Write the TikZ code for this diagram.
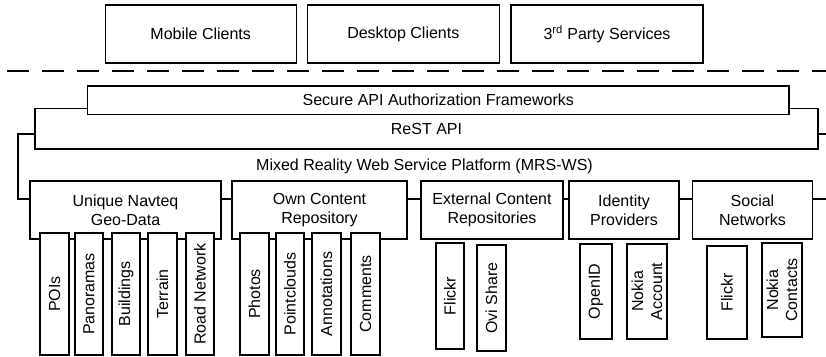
\documentclass[tikz,border=0pt]{standalone}
\usepackage{fontspec}
\setmainfont{Liberation Sans}
\usepackage{tikz}

\tikzset{
    box/.style={draw, line width=1.2pt, fill=white, inner sep=1pt, align=center, font=\fontsize{16}{19}\selectfont},
    vbox/.style={box, rotate=90},
}

\begin{document}
\begin{tikzpicture}[x=1pt,y=1pt,yscale=-1,xscale=1]
    \useasboundingbox (0,0) rectangle (826,356);

    %Shape: Rectangle [clients]
    \node [box, minimum width=191, minimum height=58] (mobile) at (200.7,33.9) {Mobile Clients};
    \node [box, minimum width=192, minimum height=58] (desktop) at (403.3,33.9) {Desktop Clients};
    \node [box, minimum width=192, minimum height=58] (thirdparty) at (607,33.9) {3\textsuperscript{rd} Party Services};

    %Straight Lines [separator]
    \draw [line width=1.2pt, dash pattern={on 21.7pt off 13.3pt}] (7,71) -- (826,71) ;

    %Shape: Rectangle [platform layers]
    \node [box, minimum width=813, minimum height=65] (platform) at (424.5,166.5) {Mixed Reality Web Service Platform (MRS-WS)};
    \node [box, minimum width=783, minimum height=40.5] (rest) at (426.5,128.75) {ReST API};
    \node [box, minimum width=701.5, minimum height=28.5] (secure) at (438.25,100.25) {Secure API Authorization Frameworks};

    %Shape: Rectangle [content sources]
    \node [box, minimum width=191, minimum height=58] (navteq) at (125.5,210) {Unique Navteq\\Geo-Data};
    \node [box, minimum width=175, minimum height=58] (owncontent) at (319.5,210) {Own Content\\Repository};
    \node [box, minimum width=142, minimum height=58] (external) at (492,210) {External Content\\Repositories};
    \node [box, minimum width=110, minimum height=58] (identity) at (624,210) {Identity\\Providers};
    \node [box, minimum width=120, minimum height=58] (social) at (752.5,210) {Social\\Networks};

    %Shape: Rectangle [navteq data]
    \node [vbox, minimum width=122, minimum height=29] (pois) at (54.5,294) {POIs};
    \node [vbox, minimum width=122, minimum height=28] (panoramas) at (89,294) {Panoramas};
    \node [vbox, minimum width=122, minimum height=28] (buildings) at (126,294) {Buildings};
    \node [vbox, minimum width=122, minimum height=29] (terrain) at (162.5,294) {Terrain};
    \node [vbox, minimum width=122, minimum height=28] (roadnet) at (200,294) {Road Network};

    %Shape: Rectangle [own content]
    \node [vbox, minimum width=122, minimum height=29] (photos) at (254.5,294) {Photos};
    \node [vbox, minimum width=122, minimum height=28] (pointclouds) at (290,294) {Pointclouds};
    \node [vbox, minimum width=122, minimum height=29] (annotations) at (326.5,294) {Annotations};
    \node [vbox, minimum width=122, minimum height=29] (comments) at (365.5,294) {Comments};

    %Shape: Rectangle [external repositories]
    \node [vbox, minimum width=106, minimum height=28] (flickrext) at (450,296) {Flickr};
    \node [vbox, minimum width=106, minimum height=29] (ovishare) at (491.5,298) {Ovi Share};

    %Shape: Rectangle [identity providers]
    \node [vbox, minimum width=95, minimum height=32] (openid) at (596,291.5) {OpenID};
    \node [vbox, minimum width=95, minimum height=40] (nokiaacc) at (647,291.5) {Nokia\\Account};

    %Shape: Rectangle [social networks]
    \node [vbox, minimum width=93, minimum height=40] (flickrsoc) at (727,292.5) {Flickr};
    \node [vbox, minimum width=94, minimum height=40] (nokiacont) at (782,290) {Nokia\\Contacts};
\end{tikzpicture}
\end{document}
